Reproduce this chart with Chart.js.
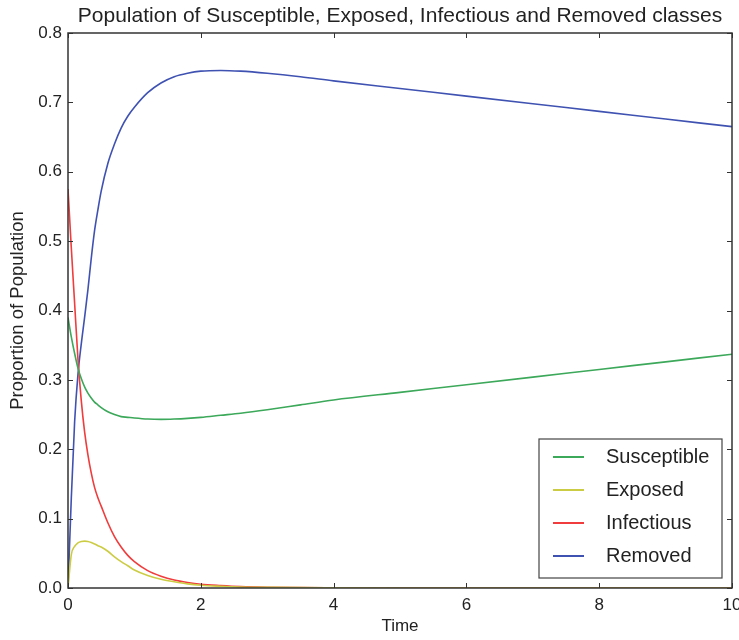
<!DOCTYPE html>
<html>
<head>
<meta charset="utf-8">
<script src="https://cdn.jsdelivr.net/npm/chart.js@4.4.0/dist/chart.umd.min.js"></script>
<style>
  html, body { margin: 0; padding: 0; background: #ffffff; }
  #wrap { width: 739px; height: 640px; position: relative; }
</style>
</head>
<body>
<div id="wrap"><canvas id="c" width="739" height="640"></canvas></div>
<script>
// ---- data ----
const times = [0, 0.05, 0.1, 0.15, 0.2, 0.25, 0.3, 0.35, 0.4, 0.45, 0.5, 0.6, 0.7, 0.8, 0.9, 1.0, 1.2, 1.4, 1.6, 1.8, 2.0, 2.3, 2.6, 3.0, 3.5, 4, 5, 6, 7, 8, 9, 10];
const susceptible = [0.390, 0.362, 0.338, 0.317, 0.302, 0.290, 0.281, 0.274, 0.268, 0.264, 0.260, 0.254, 0.250, 0.247, 0.246, 0.245, 0.2435, 0.243, 0.2435, 0.2445, 0.246, 0.249, 0.252, 0.257, 0.264, 0.271, 0.282, 0.293, 0.304, 0.315, 0.326, 0.337];
const exposed     = [0.000, 0.048, 0.060, 0.065, 0.067, 0.0675, 0.067, 0.0655, 0.0635, 0.061, 0.059, 0.053, 0.045, 0.038, 0.032, 0.026, 0.018, 0.0125, 0.009, 0.006, 0.004, 0.0025, 0.0015, 0.001, 0.0005, 0.0003, 0.0001, 0, 0, 0, 0, 0];
const infectious  = [0.575, 0.490, 0.410, 0.330, 0.270, 0.225, 0.192, 0.166, 0.145, 0.130, 0.118, 0.094, 0.074, 0.059, 0.047, 0.038, 0.025, 0.017, 0.0115, 0.008, 0.0055, 0.0035, 0.002, 0.001, 0.0005, 0.0003, 0.0001, 0, 0, 0, 0, 0];
const removed     = [0.000, 0.130, 0.240, 0.308, 0.352, 0.390, 0.430, 0.475, 0.515, 0.545, 0.572, 0.612, 0.640, 0.663, 0.680, 0.693, 0.714, 0.728, 0.737, 0.742, 0.745, 0.746, 0.745, 0.742, 0.737, 0.731, 0.720, 0.709, 0.698, 0.687, 0.676, 0.665];
const seriesNames = ["Susceptible", "Exposed", "Infectious", "Removed"];
const seriesColors = ["#3ca85a", "#cccc44", "#f03c3c", "#3f52b2"];
const xTicks = [0, 2, 4, 6, 8, 10];
const yTicks = [0.0, 0.1, 0.2, 0.3, 0.4, 0.5, 0.6, 0.7, 0.8];

const FONT = "'Liberation Sans', Arial, Helvetica, sans-serif";
const allSeries = [susceptible, exposed, infectious, removed];

const datasets = allSeries.map((vals, i) => ({
  label: seriesNames[i],
  data: times.map((t, k) => ({ x: t, y: vals[k] })),
  borderColor: seriesColors[i],
  backgroundColor: seriesColors[i],
  borderWidth: 1.6,
  pointRadius: 0,
  fill: false,
  cubicInterpolationMode: 'monotone'
}));

// Frame + inward ticks on all four sides (matplotlib classic look) + legend box
const framePlugin = {
  id: 'frame',
  afterDraw(chart) {
    const { ctx, chartArea: a, scales } = chart;
    ctx.save();
    ctx.strokeStyle = '#333333';
    ctx.lineWidth = 1;
    const L = 5;
    ctx.beginPath();
    xTicks.forEach(v => {
      const px = Math.round(scales.x.getPixelForValue(v)) + 0.5;
      ctx.moveTo(px, a.bottom); ctx.lineTo(px, a.bottom - L);
      ctx.moveTo(px, a.top); ctx.lineTo(px, a.top + L);
    });
    yTicks.forEach(v => {
      const py = Math.round(scales.y.getPixelForValue(v)) + 0.5;
      ctx.moveTo(a.left, py); ctx.lineTo(a.left + L, py);
      ctx.moveTo(a.right, py); ctx.lineTo(a.right - L, py);
    });
    ctx.stroke();
    ctx.lineWidth = 1.5;
    ctx.strokeRect(a.left, a.top, a.right - a.left, a.bottom - a.top);

    const w = 183, h = 139, m = 10;
    const lx = a.right - m - w, ly = a.bottom - m - h;
    ctx.fillStyle = '#ffffff';
    ctx.fillRect(lx, ly, w, h);
    ctx.strokeStyle = '#444444';
    ctx.lineWidth = 1.2;
    ctx.strokeRect(lx, ly, w, h);
    ctx.font = "20px " + FONT;
    ctx.textBaseline = 'middle';
    ctx.textAlign = 'left';
    chart.data.datasets.forEach((ds, i) => {
      const cy = ly + 18 + i * 33;
      ctx.strokeStyle = ds.borderColor;
      ctx.lineWidth = 2;
      ctx.beginPath();
      ctx.moveTo(lx + 14, cy); ctx.lineTo(lx + 45, cy);
      ctx.stroke();
      ctx.fillStyle = '#222222';
      ctx.fillText(ds.label, lx + 67, cy);
    });
    ctx.restore();
  }
};

new Chart(document.getElementById('c'), {
  type: 'line',
  data: { datasets },
  plugins: [framePlugin],
  options: {
    responsive: false,
    animation: false,
    events: [],
    layout: { padding: { left: 0, right: 7, top: 0, bottom: 0 } },
    plugins: {
      legend: { display: false },
      tooltip: { enabled: false },
      title: {
        display: true,
        fullSize: false,
        text: 'Population of Susceptible, Exposed, Infectious and Removed classes',
        color: '#222222',
        font: { family: FONT, size: 21, weight: 'normal', lineHeight: 1.2 },
        padding: { top: 4, bottom: 3.8 }
      }
    },
    scales: {
      x: {
        type: 'linear',
        min: 0, max: 10,
        afterBuildTicks(scale) { scale.ticks = xTicks.map(v => ({ value: v })); },
        afterFit(scale) { scale.height = 52; scale.paddingLeft = 0; scale.paddingRight = 0; },
        ticks: {
          color: '#222222',
          font: { family: FONT, size: 17 },
          padding: 7,
          maxRotation: 0,
          callback: v => String(v)
        },
        grid: { display: false, drawTicks: false },
        border: { display: false },
        title: {
          display: true, text: 'Time', color: '#222222',
          font: { family: FONT, size: 17, lineHeight: 1.2 },
          padding: { top: 0, bottom: 3 }
        }
      },
      y: {
        type: 'linear',
        min: 0, max: 0.8,
        afterBuildTicks(scale) { scale.ticks = yTicks.map(v => ({ value: v })); },
        afterFit(scale) { scale.width = 68; scale.paddingTop = 0; scale.paddingBottom = 0; },
        ticks: {
          color: '#222222',
          font: { family: FONT, size: 17 },
          padding: 6,
          callback: v => Number(v).toFixed(1)
        },
        grid: { display: false, drawTicks: false },
        border: { display: false },
        title: {
          display: true, text: 'Proportion of Population', color: '#222222',
          font: { family: FONT, size: 18.5, lineHeight: 1.2 },
          padding: { top: 7, bottom: 0 }
        }
      }
    }
  }
});
</script>
</body>
</html>
